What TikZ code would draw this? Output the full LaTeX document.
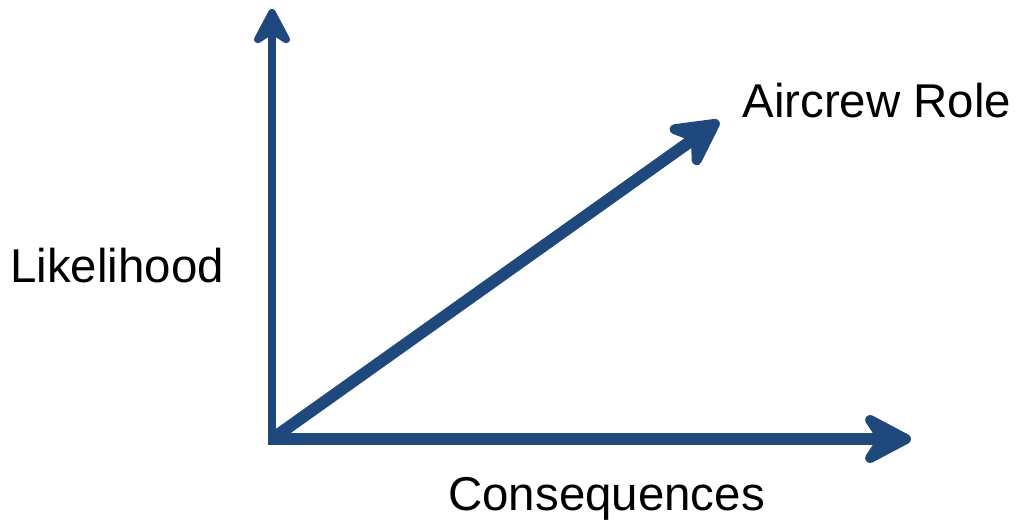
\documentclass[tikz,border=0pt]{standalone}
\usepackage{fontspec}
\setmainfont{Liberation Sans}
\usetikzlibrary{arrows.meta,positioning}
\definecolor{axisblue}{RGB}{31,73,125}
\tikzset{
  axisline/.style={draw=axisblue, line width=6.8pt, line cap=butt},
  thinaxis/.style={draw=axisblue, line width=4.6pt, line cap=butt},
  bighead/.style={-{Stealth[length=1.22cm, width=1.28cm, inset=0.42cm, round]}},
  smallhead/.style={-{Stealth[length=0.9cm, width=0.95cm, inset=0.3cm, round]}},
  lbl/.style={anchor=base west, inner sep=0pt, font=\fontsize{27}{32}\selectfont}
}
\begin{document}
\begin{tikzpicture}[x=0.02cm,y=-0.02cm]
  \useasboundingbox (0,0) rectangle (1017,531);
  \coordinate (origin) at (272,439);
  \coordinate (ytip) at (272,9);
  \coordinate (xtip) at (911,439);
  \coordinate (rtip) at (719,121);
  \node[lbl] (likelihood) at (10,282) {Likelihood};
  \node[lbl] (role) at (742,117) {Aircrew Role};
  \node[lbl] (consequences) at (448,510) {Consequences};
  \draw[thinaxis,smallhead] ([yshift=-3.4pt]origin) -- (ytip);
  \draw[axisline,bighead] ([xshift=-2.3pt]origin) -- (xtip);
  \draw[axisline,bighead] (origin) -- (rtip);
\end{tikzpicture}
\end{document}
